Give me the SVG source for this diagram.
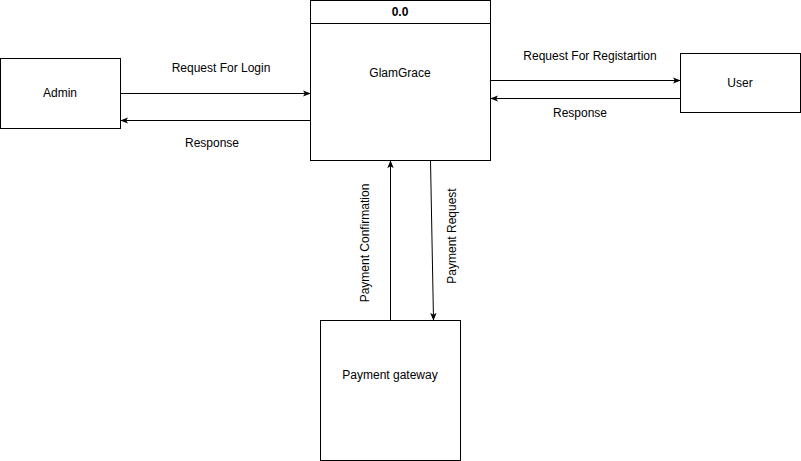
<svg xmlns="http://www.w3.org/2000/svg" width="801" height="461" viewBox="0 0 801 461">
<style>
.box{fill:#fff;stroke:#000;stroke-width:1}
.t{font-family:"Liberation Sans",Arial,sans-serif;font-size:12px;fill:#000;text-anchor:middle;dominant-baseline:central}
.b{font-weight:bold}
.c{fill:none;stroke:#000;stroke-width:1}
</style>
<defs>
<marker id="ah" viewBox="0 0 10 10" refX="9" refY="5" markerWidth="8" markerHeight="8" markerUnits="userSpaceOnUse" orient="auto">
<path d="M0,1 L10,5 L0,9 L2.5,5 Z" fill="#000"/>
</marker>
</defs>
<rect width="801" height="461" fill="#fff"/>
<g id="glamgrace">
<rect class="box" x="310.5" y="0.5" width="180" height="160"/>
<line class="c" x1="310.5" y1="23.5" x2="490.5" y2="23.5"/>
<text class="t b" x="400" y="12">0.0</text>
<text class="t" x="400" y="73">GlamGrace</text>
</g>
<g id="admin">
<rect class="box" x="0.5" y="58.5" width="120" height="70"/>
<text class="t" x="60" y="93">Admin</text>
</g>
<g id="user">
<rect class="box" x="680.5" y="53.5" width="120" height="59"/>
<text class="t" x="740" y="83">User</text>
</g>
<g id="payment">
<rect class="box" x="320.5" y="320.5" width="140" height="140"/>
<text class="t" x="390" y="375">Payment gateway</text>
</g>
<g id="connectors">
<line class="c" x1="120.5" y1="93.5" x2="310" y2="93.5" marker-end="url(#ah)"/>
<line class="c" x1="310.5" y1="120.5" x2="121" y2="120.5" marker-end="url(#ah)"/>
<line class="c" x1="490.5" y1="80.5" x2="680" y2="80.5" marker-end="url(#ah)"/>
<line class="c" x1="680.5" y1="98.5" x2="491" y2="98.5" marker-end="url(#ah)"/>
<line class="c" x1="390.5" y1="320.5" x2="390.5" y2="161" marker-end="url(#ah)"/>
<line class="c" x1="430.5" y1="160.5" x2="433.5" y2="320" marker-end="url(#ah)"/>
</g>
<g id="labels">
<text class="t" x="221" y="68">Request For Login</text>
<text class="t" x="212" y="143">Response</text>
<text class="t" x="590" y="56">Request For Registartion</text>
<text class="t" x="580" y="113">Response</text>
<text class="t" transform="translate(365,243) rotate(-90)">Payment Confirmation</text>
<text class="t" transform="translate(452,236) rotate(-90)">Payment Request</text>
</g>
</svg>
